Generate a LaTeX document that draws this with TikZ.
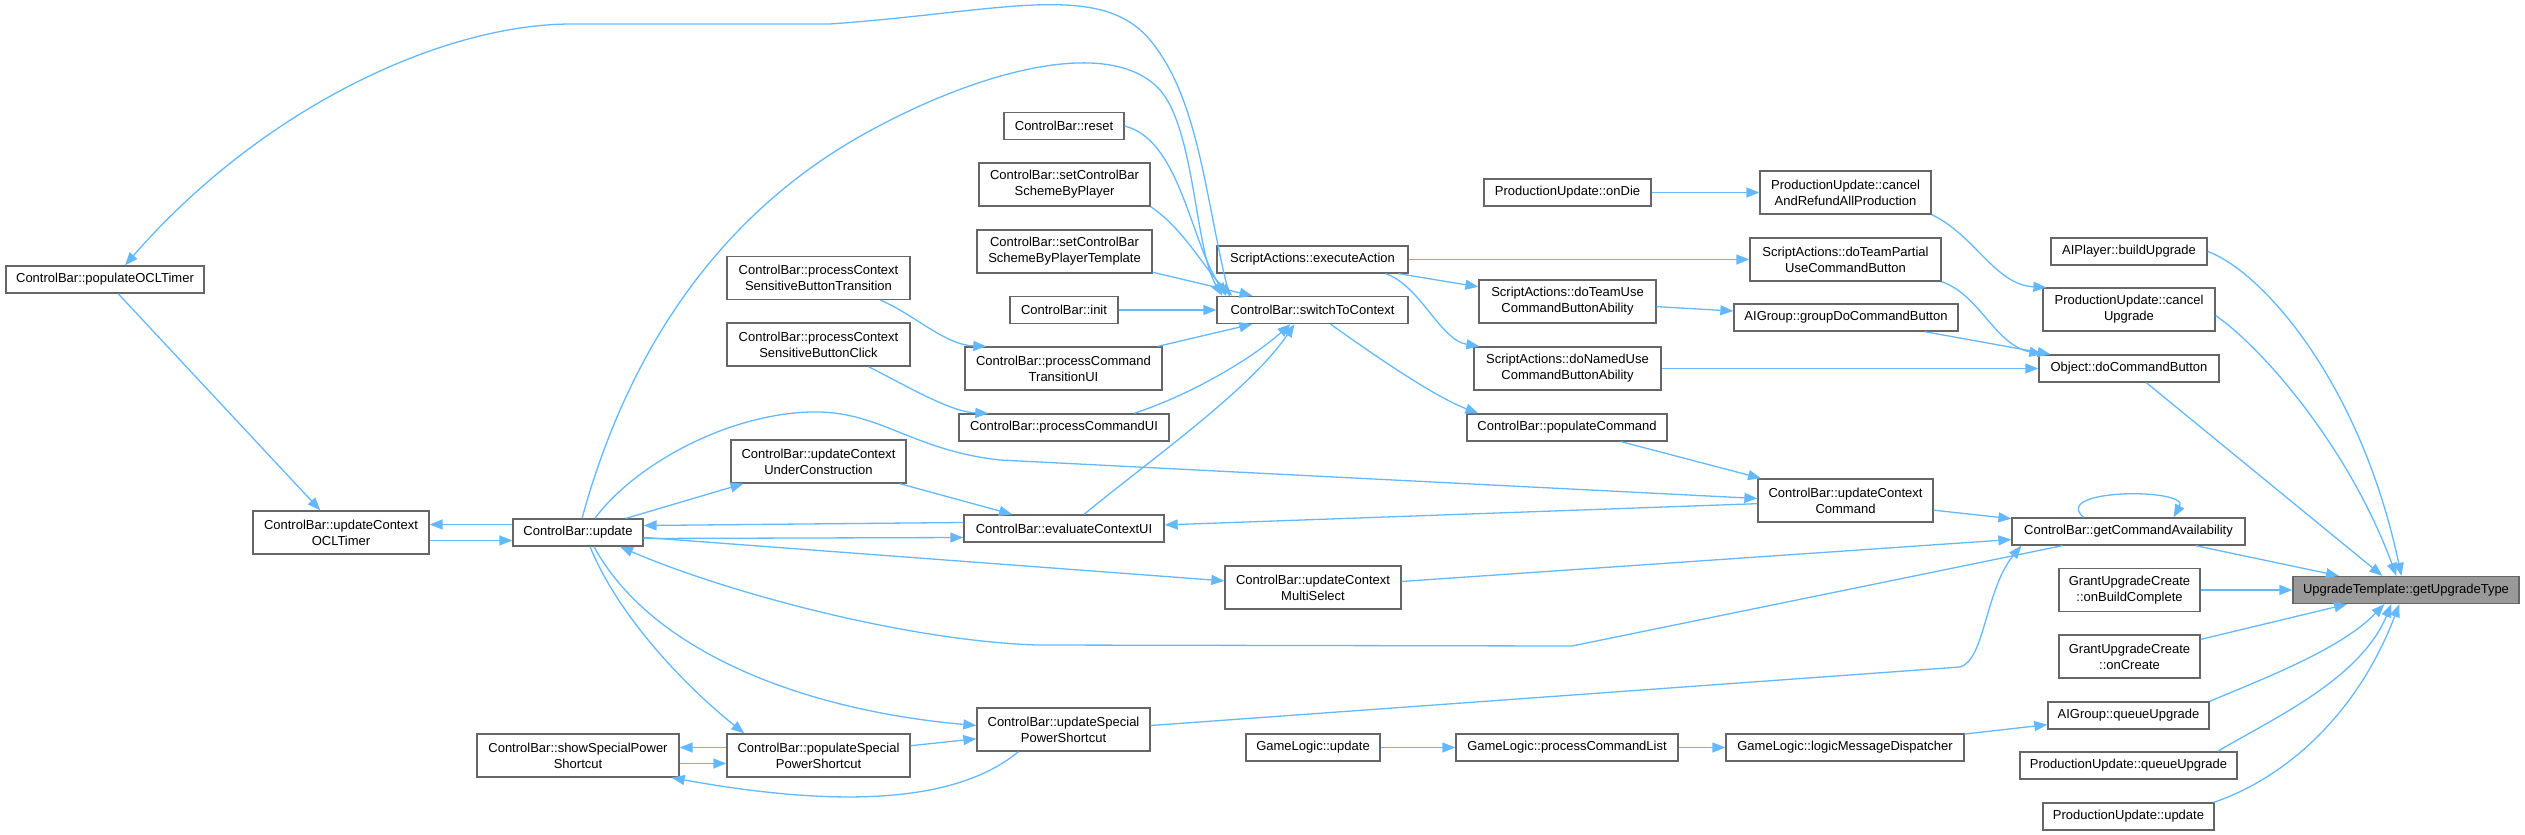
\documentclass[tikz,border=0pt]{standalone}
\usepackage{fontspec}
\setmainfont{Liberation Sans}
\usetikzlibrary{arrows.meta}
\definecolor{callblue}{HTML}{63B8FF}
\definecolor{boxgray}{HTML}{666666}
\definecolor{rootgray}{HTML}{999999}
\tikzset{
  fnbox/.style={draw=boxgray, line width=1.3pt, fill=white, minimum height=27pt, align=center, inner sep=2pt, font=\fontsize{13}{16}\selectfont},
  fntwo/.style={fnbox, minimum height=43pt},
  rootbox/.style={fnbox, fill=rootgray},
  call/.style={-{Triangle[length=13pt, width=10pt]}, draw=callblue, line width=1.3pt},
}
\begin{document}
\begin{tikzpicture}[x=1pt, y=-1pt]
  \useasboundingbox (0,0) rectangle (2525,835);
  % left column
  \node[fnbox, minimum width=198pt] (ocl) at (105,279.5) {ControlBar::populateOCLTimer};
  \node[fntwo, minimum width=176pt] (uOCL) at (341,532.5) {ControlBar::updateContext\\OCLTimer};
  \node[fnbox, minimum width=130pt] (upd) at (578,532.5) {ControlBar::update};
  \node[fntwo, minimum width=202pt] (show) at (578,755.5) {ControlBar::showSpecialPower\\Shortcut};
  \node[fntwo, minimum width=183pt] (pcsbT) at (818.5,278) {ControlBar::processContext\\SensitiveButtonTransition};
  \node[fntwo, minimum width=183pt] (pcsbC) at (818.5,344.5) {ControlBar::processContext\\SensitiveButtonClick};
  \node[fntwo, minimum width=175pt] (uUC) at (818.5,461.5) {ControlBar::updateContext\\UnderConstruction};
  \node[fntwo, minimum width=183pt] (popSP) at (818.5,755.5) {ControlBar::populateSpecial\\PowerShortcut};
  \node[fnbox, minimum width=120pt] (reset) at (1064,126) {ControlBar::reset};
  \node[fntwo, minimum width=171pt] (schPl) at (1064.5,184.5) {ControlBar::setControlBar\\SchemeByPlayer};
  \node[fntwo, minimum width=175pt] (schPT) at (1064.5,251.5) {ControlBar::setControlBar\\SchemeByPlayerTemplate};
  \node[fnbox, minimum width=108pt] (init) at (1064,310) {ControlBar::init};
  \node[fntwo, minimum width=197pt] (pcTUI) at (1063.5,368.5) {ControlBar::processCommand\\TransitionUI};
  \node[fnbox, minimum width=210pt] (pcUI) at (1064,427.5) {ControlBar::processCommandUI};
  \node[fnbox, minimum width=200pt] (eval) at (1064,528.5) {ControlBar::evaluateContextUI};
  \node[fntwo, minimum width=173pt] (uSP) at (1063.5,729.5) {ControlBar::updateSpecial\\PowerShortcut};
  % middle columns
  \node[fnbox, minimum width=191pt] (exec) at (1312.5,259.5) {ScriptActions::executeAction};
  \node[fnbox, minimum width=191pt] (switch) at (1312.5,310) {ControlBar::switchToContext};
  \node[fntwo, minimum width=176pt] (multi) at (1313,587.5) {ControlBar::updateContext\\MultiSelect};
  \node[fnbox, minimum width=134pt] (glUpd) at (1313,747.5) {GameLogic::update};
  \node[fnbox, minimum width=167pt] (onDie) at (1567.5,192.5) {ProductionUpdate::onDie};
  \node[fntwo, minimum width=177pt] (teamUse) at (1567.5,301.5) {ScriptActions::doTeamUse\\CommandButtonAbility};
  \node[fntwo, minimum width=187pt] (namedUse) at (1567.5,368.5) {ScriptActions::doNamedUse\\CommandButtonAbility};
  \node[fnbox, minimum width=200pt] (popCmd) at (1567,427.5) {ControlBar::populateCommand};
  \node[fnbox, minimum width=222pt] (procCL) at (1567,747.5) {GameLogic::processCommandList};
  \node[fntwo, minimum width=171pt] (cancelRefund) at (1845.5,192.5) {ProductionUpdate::cancel\\AndRefundAllProduction};
  \node[fntwo, minimum width=191pt] (teamPartial) at (1845.5,259.5) {ScriptActions::doTeamPartial\\UseCommandButton};
  \node[fnbox, minimum width=224pt] (groupDo) at (1846,317.5) {AIGroup::groupDoCommandButton};
  \node[fntwo, minimum width=175pt] (uCC) at (1845.5,500.5) {ControlBar::updateContext\\Command};
  \node[fnbox, minimum width=238pt] (lmd) at (1845,747.5) {GameLogic::logicMessageDispatcher};
  % right columns
  \node[fnbox, minimum width=156pt] (buildUp) at (2129,251.5) {AIPlayer::buildUpgrade};
  \node[fntwo, minimum width=172pt] (cancelUp) at (2129,309.5) {ProductionUpdate::cancel\\Upgrade};
  \node[fnbox, minimum width=180pt] (doCmd) at (2129,368.5) {Object::doCommandButton};
  \node[fnbox, minimum width=233pt] (getCA) at (2128.5,531.5) {ControlBar::getCommandAvailability};
  \node[fntwo, minimum width=141pt] (onBuild) at (2129.5,590) {GrantUpgradeCreate\\::onBuildComplete};
  \node[fntwo, minimum width=141pt] (onCreate) at (2129.5,656.5) {GrantUpgradeCreate\\::onCreate};
  \node[fnbox, minimum width=161pt] (aiQU) at (2128.5,715.5) {AIGroup::queueUpgrade};
  \node[fnbox, minimum width=217pt] (puQU) at (2128.5,765.5) {ProductionUpdate::queueUpgrade};
  \node[fnbox, minimum width=171pt] (puUpd) at (2128.5,816.5) {ProductionUpdate::update};
  \node[rootbox, minimum width=226pt] (root) at (2406,590) {UpgradeTemplate::getUpgradeType};
  % straight calls
  \foreach \a/\b in {onBuild/root, getCA/root, onCreate/root, lmd/aiQU, glUpd/procCL, procCL/lmd, onDie/cancelRefund, groupDo/doCmd, namedUse/doCmd, teamUse/groupDo, exec/teamPartial, exec/teamUse, popCmd/uCC, uCC/getCA, multi/getCA, uCC/eval, upd/uUC, uUC/eval, upd/multi, schPT/switch, init/switch, pcTUI/switch, ocl/uOCL, popSP/uSP}
    \draw[call] (\a) -- (\b);
  \draw[call] (doCmd) -- ([xshift=90pt]root.north west);
  \draw[call] ([yshift=8pt]upd.west) -- ([yshift=8pt]uOCL.east);
  \draw[call] ([yshift=-8pt]uOCL.east) -- ([yshift=-8pt]upd.west);
  \draw[call] ([yshift=6pt]eval.west) -- ([yshift=7pt]upd.east);
  \draw[call] ([yshift=-6pt]upd.east) -- ([yshift=-9pt]eval.west);
  \draw[call] ([yshift=8pt]popSP.west) -- ([yshift=8pt]show.east);
  \draw[call] ([yshift=-8pt]show.east) -- ([yshift=-8pt]popSP.west);
  % curved calls into the root
  \draw[call] (buildUp.east) .. controls (2260,270) and (2360,380) .. ([xshift=109pt]root.north west);
  \draw[call] ([yshift=-6pt]cancelUp.east) .. controls (2265,350) and (2350,450) .. ([xshift=104pt]root.north west);
  \draw[call] (aiQU.north east) .. controls (2260,680) and (2340,650) .. ([xshift=92pt]root.south west);
  \draw[call] ([xshift=-20pt]puQU.north east) .. controls (2270,720) and (2360,680) .. ([xshift=99pt]root.south west);
  \draw[call] ([xshift=-1pt]puUpd.north east) .. controls (2280,780) and (2355,720) .. ([xshift=107pt]root.south west);
  \draw[call] ([xshift=-45pt]getCA.north) .. controls (2050,488) and (2190,488) .. ([xshift=45pt]getCA.north);
  % command buttons
  \draw[call] (cancelRefund.south east) .. controls (1975,235) and (1995,285) .. ([xshift=4pt]cancelUp.north west);
  \draw[call] (teamPartial.south east) .. controls (1980,295) and (1995,345) .. ([xshift=4pt]doCmd.north west);
  \draw[call] ([xshift=73pt]exec.south) .. controls (1420,285) and (1440,340) .. ([xshift=6pt]namedUse.north west);
  \draw[call] ([xshift=18pt]switch.south) .. controls (1360,345) and (1430,395) .. ([xshift=12pt]popCmd.north west);
  % into switchToContext
  \draw[call] (reset.east) .. controls (1180,140) and (1190,240) .. ([xshift=10pt]switch.north west);
  \draw[call] (schPl.south east) .. controls (1185,230) and (1205,270) .. ([xshift=16pt]switch.north west);
  \draw[call] ([xshift=70pt]pcUI.north) .. controls (1190,395) and (1250,360) .. ([xshift=-22pt]switch.south);
  \draw[call] ([xshift=20pt]eval.north) .. controls (1150,460) and (1250,390) .. ([xshift=-18pt]switch.south);
  \draw[call] ([xshift=62pt]pcsbT.south) .. controls (915,315) and (945,345) .. ([xshift=22pt]pcTUI.north west);
  \draw[call] ([xshift=50pt]pcsbC.south) .. controls (905,385) and (950,412) .. ([xshift=30pt]pcUI.north west);
  \draw[call] ([xshift=4pt]upd.north) .. controls (620,380) and (700,220) .. (877,127)
    .. controls (980,72) and (1110,35) .. (1160,90) .. controls (1195,130) and (1195,250) .. ([xshift=6pt]switch.north west);
  \draw[call] ([xshift=13pt]switch.north west) .. controls (1205,200) and (1200,100) .. (1150,40)
    .. controls (1100,-20) and (1000,12) .. (830,24) -- (572,24) .. controls (440,24) and (260,110) .. ([xshift=20pt]ocl.north);
  % long calls around ControlBar::update
  \draw[call] ([xshift=17pt]upd.north) .. controls (630,470) and (720,415) .. (810,412)
    .. controls (880,410) and (910,450) .. (1000,460) -- ([yshift=2pt]uCC.west);
  \draw[call] ([xshift=-66pt]getCA.south) -- (1572,646) -- (1036,645) .. controls (900,640) and (720,590) .. ([xshift=42pt]upd.south);
  \draw[call] ([yshift=4pt]uSP.east) -- (1960,667) .. controls (1985,660) and (1985,590) .. ([xshift=10pt]getCA.south west);
  \draw[call] ([xshift=12pt]upd.south) .. controls (620,620) and (690,690) .. ([xshift=18pt]popSP.north west);
  \draw[call] ([xshift=16pt]upd.south) .. controls (650,650) and (800,710) .. ([yshift=4pt]uSP.west);
  \draw[call] ([xshift=-45pt]uSP.south) .. controls (960,800) and (850,810) .. ([xshift=-8pt]show.south east);
\end{tikzpicture}
\end{document}
